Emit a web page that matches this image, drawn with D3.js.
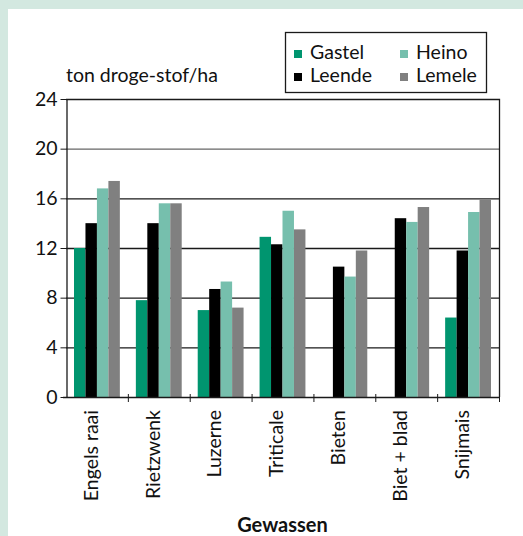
<!DOCTYPE html>
<html>
<head>
<meta charset="utf-8">
<script src="https://cdn.jsdelivr.net/npm/d3@7"></script>
<style>
  html, body { margin: 0; padding: 0; background: #d3e8e0; }
  svg { display: block; }
  text { font-family: Lato, "Open Sans", sans-serif; fill: #111; }
</style>
</head>
<body>
<svg id="chart" width="523" height="536"></svg>
<script>
// Crops and yields (ton droge-stof/ha) per location
const crops = ["Engels raai", "Rietzwenk", "Luzerne", "Triticale", "Bieten", "Biet + blad", "Snijmais"];
const locations = ["Gastel", "Leende", "Heino", "Lemele"];
const gastel = [12.0, 7.8, 7.0, 12.9, null, null, 6.4];
const leende = [14.0, 14.0, 8.7, 12.3, 10.5, 14.4, 11.8];
const heino  = [16.8, 15.6, 9.3, 15.0, 9.7, 14.1, 14.9];
const lemele = [17.4, 15.6, 7.2, 13.5, 11.8, 15.3, 15.9];
const yTicks = [0, 4, 8, 12, 16, 20, 24];
const colors = ["#00956f", "#000000", "#76bfad", "#808080"];

const FS = 19.5;

const seriesValues = [gastel, leende, heino, lemele];
const rows = crops.map((c, i) => ({
  crop: c,
  values: locations.map((loc, j) => ({ loc, v: seriesValues[j][i] }))
}));

const svg = d3.select("#chart");
// white panel inside the tinted frame
svg.append("rect").attr("x", 8).attr("y", 9).attr("width", 515).attr("height", 527).attr("fill", "#fff");

const m = { left: 66, right: 499, top: 99, bottom: 397 };

const x0 = d3.scaleBand().domain(crops).range([m.left, m.right]).paddingInner(0).paddingOuter(0);
const x1 = d3.scaleBand().domain(locations).range([8, x0.bandwidth() - 8]);
const y = d3.scaleLinear().domain([0, 24]).range([m.bottom, m.top]);

// gridlines
svg.append("g").selectAll("line").data(yTicks.filter(t => t > 0 && t < 24)).join("line")
  .attr("x1", m.left).attr("x2", m.right)
  .attr("y1", d => y(d) + 0.5).attr("y2", d => y(d) + 0.5)
  .attr("stroke", d => d === 20 ? "#666" : "#1a1a1a").attr("stroke-width", 1.3);

// bars
const groups = svg.append("g").selectAll("g").data(rows).join("g")
  .attr("transform", d => `translate(${x0(d.crop)},0)`);
groups.selectAll("rect").data(d => d.values.filter(e => e.v != null)).join("rect")
  .attr("x", d => x1(d.loc))
  .attr("width", x1.bandwidth())
  .attr("y", d => y(d.v))
  .attr("height", d => y(0) - y(d.v))
  .attr("fill", d => colors[locations.indexOf(d.loc)]);

// frame: top and right edges
svg.append("path")
  .attr("d", `M${m.left},${m.top + 0.5}H${m.right + 0.5}V${m.bottom}`)
  .attr("fill", "none").attr("stroke", "#1a1a1a").attr("stroke-width", 1.3);

// y axis
const yAxis = svg.append("g").attr("transform", `translate(${m.left + 0.5},0)`)
  .call(d3.axisLeft(y).tickValues(yTicks).tickSize(6).tickPadding(3).tickSizeOuter(0));
yAxis.select(".domain").attr("stroke", "#1a1a1a").attr("stroke-width", 1.3);
yAxis.selectAll(".tick line").attr("stroke", "#1a1a1a");
yAxis.selectAll(".tick text").attr("font-size", FS).attr("font-family", "Lato, sans-serif").attr("fill", "#111");

// x axis line and category separators
svg.append("line").attr("x1", m.left - 3).attr("x2", m.right + 0.5)
  .attr("y1", m.bottom + 0.5).attr("y2", m.bottom + 0.5).attr("stroke", "#1a1a1a").attr("stroke-width", 1.3);
const bounds = crops.map(c => x0(c)).concat([m.right]).slice(1);
svg.append("g").selectAll("line").data(bounds).join("line")
  .attr("x1", d => d + 0.5).attr("x2", d => d + 0.5)
  .attr("y1", m.bottom - 3).attr("y2", m.bottom + 5)
  .attr("stroke", "#1a1a1a");

// category labels, rotated
svg.append("g").selectAll("text").data(crops).join("text")
  .attr("transform", d => `translate(${x0(d) + x0.bandwidth() / 2 - 6},${m.bottom + 13}) rotate(-90)`)
  .attr("text-anchor", "end").attr("dy", "0.35em")
  .attr("font-size", FS)
  .text(d => d);

// axis titles
svg.append("text").attr("x", m.left).attr("y", 82).attr("font-size", FS).text("ton droge-stof/ha");
svg.append("text").attr("x", (m.left + m.right) / 2).attr("y", 532)
  .attr("text-anchor", "middle").attr("font-size", 20).attr("font-weight", "bold").text("Gewassen");

// legend
const lg = svg.append("g");
lg.append("rect").attr("x", 285.5).attr("y", 32.5).attr("width", 201).attr("height", 60)
  .attr("fill", "#fff").attr("stroke", "#1a1a1a").attr("stroke-width", 1.3);
const legendOrder = ["Gastel", "Heino", "Leende", "Lemele"];
const items = lg.selectAll("g").data(legendOrder).join("g")
  .attr("transform", (d, i) => `translate(${i % 2 === 0 ? 294 : 400},${i < 2 ? 59 : 82})`);
items.append("rect").attr("x", 0).attr("y", -9).attr("width", 8).attr("height", 8)
  .attr("fill", d => colors[locations.indexOf(d)]);
items.append("text").attr("x", 16).attr("y", 0).attr("font-size", FS).text(d => d);
</script>
</body>
</html>
